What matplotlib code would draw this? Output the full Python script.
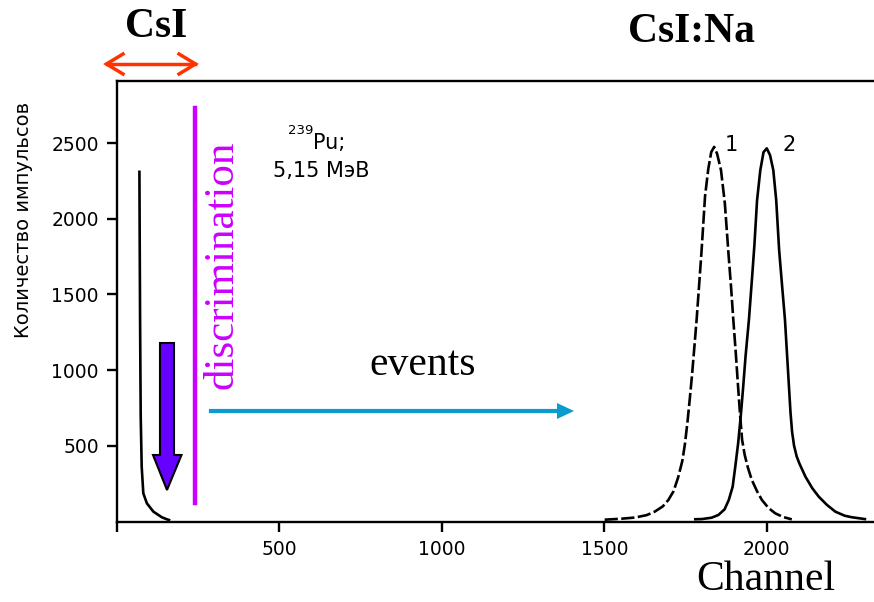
import matplotlib
matplotlib.use("Agg")
import matplotlib.pyplot as plt
import matplotlib.transforms as mtransforms
from matplotlib.patches import Polygon

# ---- data ----
csi_ch = [69, 70, 71, 72, 73, 76, 81, 92, 112, 138, 153, 160]
csi_cnt = [2310, 1800, 1353, 1000, 692, 362, 186, 120, 65, 28, 15, 10]

p1_ch = [1501, 1550, 1594, 1630, 1655, 1680, 1697, 1713, 1727, 1740, 1748, 1756, 1763, 1770,
         1777, 1784, 1792, 1799, 1810, 1820, 1829, 1838, 1847, 1859, 1871, 1882, 1890, 1897,
         1905, 1912, 1918, 1924, 1932, 1942, 1954, 1970, 1985, 2005, 2026, 2050, 2077]
p1_cnt = [12, 18, 26, 42, 65, 100, 142, 200, 290, 400, 510, 660, 810, 970,
          1150, 1332, 1570, 1780, 2150, 2330, 2440, 2475, 2430, 2322, 2100, 1772, 1550, 1332,
          1100, 880, 700, 540, 440, 355, 274, 200, 142, 90, 54, 30, 14]

p2_ch = [1780, 1800, 1830, 1851, 1870, 1883, 1895, 1903, 1912, 1920, 1927, 1935, 1945, 1955,
         1962, 1970, 1980, 1990, 2000, 2010, 2020, 2029, 2038, 2047, 2056, 2063, 2068, 2073,
         2078, 2084, 2092, 2100, 2119, 2140, 2160, 2185, 2211, 2240, 2262, 2302]
p2_cnt = [15, 16, 25, 43, 80, 142, 230, 362, 520, 700, 880, 1100, 1332, 1620,
          1830, 2120, 2320, 2440, 2465, 2420, 2322, 2123, 1793, 1560, 1332, 1080, 900, 720,
          590, 500, 430, 385, 296, 220, 164, 110, 65, 38, 28, 16]

x_ticks = [0, 500, 1000, 1500, 2000]
x_tick_labels = ["", "500", "1000", "1500", "2000"]
y_ticks = [500, 1000, 1500, 2000, 2500]
y_tick_labels = ["500", "1000", "1500", "2000", "2500"]

W, H = 874, 602
fig = plt.figure(figsize=(W / 100, H / 100), dpi=100)
ax = fig.add_axes([117 / W, 1 - 521.5 / H, 1 - 117 / W, (521.5 - 81) / H])
ax.set_xlim(0, 2330)
ax.set_ylim(0, 2910)

sans = ["DejaVu Sans"]
serif = ["Liberation Serif", "DejaVu Serif"]

ax.plot(csi_ch, csi_cnt, color="black", lw=1.9, solid_joinstyle="round")
ax.plot(p1_ch, p1_cnt, color="black", lw=1.9, linestyle=(0, (5, 1.3)))
ax.plot(p2_ch, p2_cnt, color="black", lw=1.9, solid_joinstyle="round")

ax.spines["right"].set_visible(False)
for s in ["left", "bottom", "top"]:
    ax.spines[s].set_linewidth(1.7)

ax.set_xticks(x_ticks)
ax.set_xticklabels(x_tick_labels, fontfamily=sans, fontsize=13.5)
ax.set_yticks(y_ticks)
ax.set_yticklabels(y_tick_labels, fontfamily=sans, fontsize=13.5)
ax.tick_params(direction="out", length=7, width=1.7, pad=6)

# pixel transform (origin top-left)
pix = mtransforms.Affine2D().scale(1, -1).translate(0, H)

def ftext(x, y, s, **kw):
    fig.text(x / W, 1 - y / H, s, **kw)

ftext(24, 220, "Количество импульсов", rotation=90, ha="center", va="center",
      fontfamily=sans, fontsize=14)
ftext(766, 580, "Channel", ha="center", va="center", fontfamily=serif, fontsize=30)
ftext(156, 27, "CsI", ha="center", va="center", fontfamily=serif, fontsize=30, fontweight="bold")
ftext(691, 32, "CsI:Na", ha="center", va="center", fontfamily=serif, fontsize=30, fontweight="bold")
ftext(423, 365, "events", ha="center", va="center", fontfamily=serif, fontsize=30)
ftext(222, 265, "discrimination", rotation=90, ha="center", va="center",
      fontfamily=serif, fontsize=31, color="#CC00FF")
ftext(301, 131, "239", ha="center", va="center", fontfamily=sans, fontsize=9.5)
ftext(329, 143, "Pu;", ha="center", va="center", fontfamily=sans, fontsize=15)
ftext(321, 171, "5,15 МэВ", ha="center", va="center", fontfamily=sans, fontsize=15)
ftext(731, 145, "1", ha="center", va="center", fontfamily=sans, fontsize=15)
ftext(789, 145, "2", ha="center", va="center", fontfamily=sans, fontsize=15)

# discrimination line
fig.add_artist(plt.Line2D([195, 195], [108, 503], transform=pix, color="#CC00FF", lw=3.2))

# block arrow (down)
arrow_pts = [(160, 343), (174, 343), (174, 455), (181.5, 455), (167, 490),
             (153, 455), (160, 455)]
fig.add_artist(Polygon(arrow_pts, closed=True, transform=pix, facecolor="#6600FF",
                       edgecolor="black", lw=1.5))

# cyan arrow
fig.add_artist(plt.Line2D([211, 560], [411, 411], transform=pix, color="#0A9BCF", lw=3))
fig.add_artist(Polygon([(557, 403), (574, 411), (557, 419)], closed=True, transform=pix,
                       facecolor="#0A9BCF", edgecolor="none"))

# red double arrow
fig.add_artist(plt.Line2D([107, 195], [64, 64], transform=pix, color="#FF3300", lw=2.5))
fig.add_artist(plt.Line2D([123, 106.5, 123], [54, 64, 74], transform=pix, color="#FF3300",
                          lw=2.5, solid_joinstyle="miter"))
fig.add_artist(plt.Line2D([179, 195.5, 179], [54, 64, 74], transform=pix, color="#FF3300",
                          lw=2.5, solid_joinstyle="miter"))

fig.savefig("out.png", dpi=100)
